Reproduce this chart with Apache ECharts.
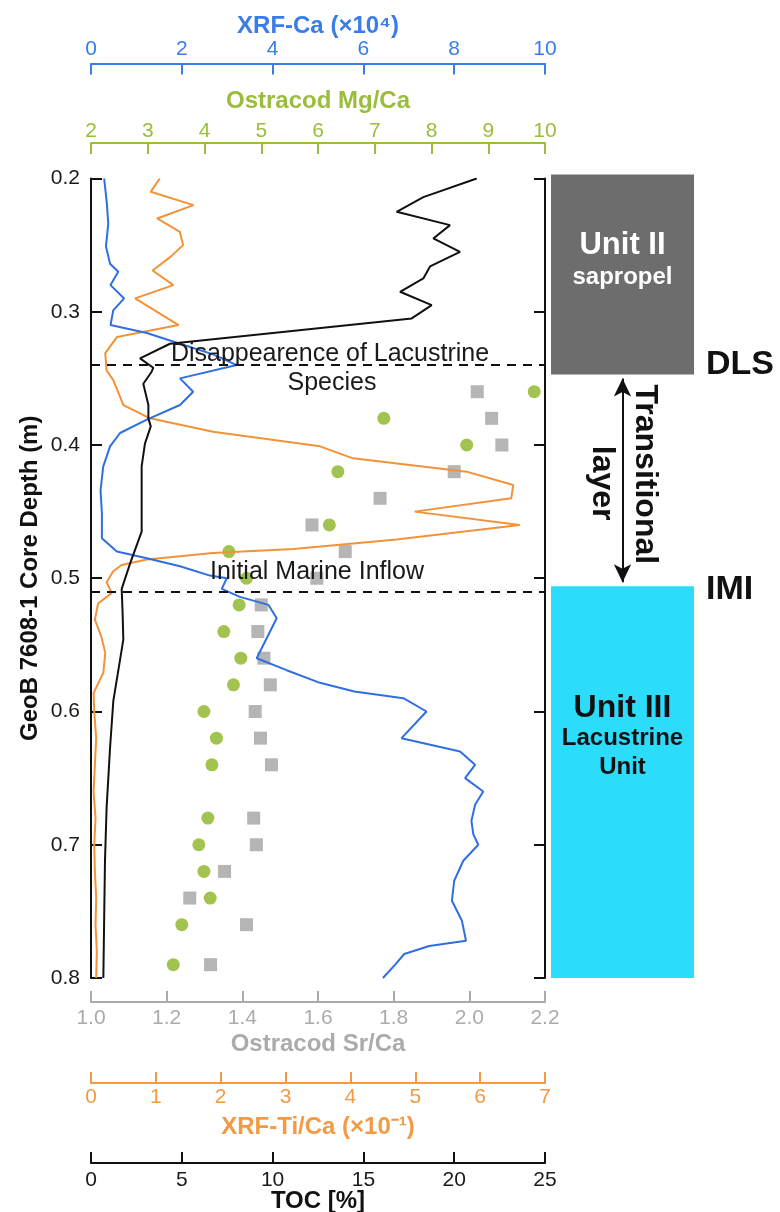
<!DOCTYPE html>
<html>
<head>
<meta charset="utf-8">
<script src="https://cdn.jsdelivr.net/npm/echarts@6/dist/echarts.min.js"></script>
<style>
html,body{margin:0;padding:0;background:#ffffff;}
#chart{width:780px;height:1212px;}
</style>
</head>
<body>
<div id="chart"></div>
<script>
// ---------------- data ----------------
const depthTicks = [0.2, 0.3, 0.4, 0.5, 0.6, 0.7, 0.8];

const depthXrfCa = [0.200,0.219,0.234,0.251,0.264,0.270,0.280,0.290,0.299,0.310,0.316,0.324,0.332,0.340,0.350,0.360,0.370,0.381,0.391,0.401,0.416,0.434,0.451,0.470,0.480,0.485,0.491,0.498,0.500,0.508,0.514,0.520,0.530,0.545,0.560,0.569,0.578,0.585,0.590,0.600,0.620,0.630,0.640,0.650,0.660,0.670,0.682,0.692,0.700,0.712,0.727,0.742,0.757,0.772,0.776,0.782,0.790,0.800];
const xrfCa      = [0.29,0.35,0.38,0.33,0.42,0.60,0.43,0.73,0.49,0.43,1.23,1.96,2.69,3.21,1.96,2.25,1.96,1.23,0.64,0.42,0.27,0.21,0.24,0.24,0.57,1.23,1.96,2.62,2.99,2.88,3.28,3.91,4.09,3.87,3.65,4.31,5.00,5.80,6.88,7.39,6.84,8.13,8.46,8.24,8.64,8.46,8.38,8.42,8.53,8.20,8.00,7.95,8.17,8.26,7.45,6.90,6.70,6.43];

const depthTiCa = [0.200,0.210,0.220,0.230,0.240,0.250,0.259,0.269,0.280,0.290,0.310,0.319,0.331,0.344,0.351,0.370,0.380,0.390,0.401,0.410,0.420,0.430,0.440,0.450,0.460,0.471,0.478,0.481,0.486,0.490,0.495,0.503,0.508,0.511,0.519,0.531,0.544,0.556,0.571,0.586,0.600,0.620,0.640,0.660,0.680,0.700,0.720,0.740,0.760,0.780,0.800];
const tiCa      = [1.06,0.92,1.58,1.02,1.37,1.42,1.22,0.95,1.27,0.68,1.35,0.40,0.22,0.24,0.34,0.50,0.91,1.88,3.53,4.04,5.79,6.51,6.48,4.99,6.61,4.71,3.12,1.88,0.86,0.47,0.34,0.24,0.29,0.32,0.11,0.06,0.16,0.22,0.19,0.04,0.05,0.08,0.06,0.04,0.07,0.05,0.06,0.08,0.07,0.09,0.08];

const depthToc = [0.200,0.214,0.225,0.235,0.245,0.255,0.266,0.275,0.285,0.295,0.305,0.324,0.335,0.342,0.345,0.354,0.370,0.380,0.386,0.399,0.416,0.465,0.489,0.508,0.526,0.546,0.577,0.592,0.627,0.672,0.712,0.760,0.800];
const toc      = [21.24,18.30,16.83,19.77,18.85,20.32,18.67,18.30,17.02,18.76,17.66,4.35,2.70,3.43,3.34,2.88,3.16,3.16,3.29,2.97,2.79,2.79,2.15,1.69,1.74,1.78,1.41,1.23,1.05,0.86,0.77,0.72,0.68];

const depthMgCa = [0.36,0.38,0.40,0.42,0.46,0.48,0.50,0.52,0.54,0.56,0.58,0.60,0.62,0.64,0.68,0.70,0.72,0.74,0.76,0.79];
const mgCa      = [9.81,7.16,8.62,6.35,6.20,4.43,4.74,4.61,4.34,4.64,4.51,3.99,4.21,4.13,4.06,3.90,3.99,4.10,3.60,3.45];

const depthSrCa = [0.36,0.38,0.40,0.42,0.44,0.46,0.48,0.50,0.52,0.54,0.56,0.58,0.60,0.62,0.64,0.68,0.70,0.72,0.74,0.76,0.79];
const srCa      = [2.021,2.059,2.086,1.960,1.764,1.584,1.672,1.597,1.450,1.441,1.457,1.474,1.434,1.448,1.477,1.430,1.437,1.353,1.261,1.411,1.316];

const eventNames  = ['DLS', 'IMI'];
const eventDepths = [0.344, 0.507];

const unitNames  = ['Unit II', 'Unit III'];
const unitTop    = [0.197, 0.506];
const unitBottom = [0.347, 0.800];

const transitionTop = 0.350;
const transitionBottom = 0.503;

// ---------------- styles ----------------
const FONT = '"Liberation Sans", Arial, Helvetica, sans-serif';
const COL = {
  blue: '#2f6fe2', blueAxis: '#3a7de8',
  green: '#8cb424', greenAxis: '#9bbd3e',
  gray: '#a3a3a3', grayAxis: '#ababab',
  orange: '#f39237', orangeAxis: '#f49a43',
  black: '#111111'
};
const unitColors = ['#6d6d6d', '#2bdcfb'];

function pairs(vals, depths) { return vals.map((v, i) => [v, depths[i]]); }

function xAxisCfg(o) {
  return {
    type: 'value', gridIndex: 0, position: o.pos, offset: o.offset,
    min: o.min, max: o.max, interval: o.interval,
    name: o.name, nameLocation: 'middle', nameGap: o.nameGap, nameMoveOverlap: false,
    nameTextStyle: { color: o.titleColor, fontSize: 24, fontWeight: 'bold', fontFamily: FONT },
    axisLine: { show: true, onZero: false, lineStyle: { color: o.color, width: 2 } },
    axisTick: { show: true, inside: true, length: 11, lineStyle: { color: o.color, width: 2 } },
    axisLabel: { color: o.labelColor, fontSize: 21, margin: o.margin, fontFamily: FONT, formatter: o.fmt },
    splitLine: { show: false }
  };
}

const GRID_TOP = 178.5, GRID_BOTTOM = 1212 - 978;

const option = {
  animation: false,
  backgroundColor: '#ffffff',
  grid: [
    { left: 91, right: 780 - 545, top: GRID_TOP, bottom: GRID_BOTTOM, containLabel: false, outerBoundsMode: 'none' },
    { left: 551, right: 780 - 694, top: GRID_TOP, bottom: GRID_BOTTOM, containLabel: false, outerBoundsMode: 'none' }
  ],
  xAxis: [
    xAxisCfg({ pos: 'top', offset: 115, min: 0, max: 10, interval: 2, name: 'XRF-Ca (×10⁴)', nameGap: 25, margin: 4,
      color: COL.blueAxis, labelColor: COL.blueAxis, titleColor: COL.blueAxis }),
    xAxisCfg({ pos: 'top', offset: 35.5, min: 2, max: 10, interval: 1, name: 'Ostracod Mg/Ca', nameGap: 30, margin: 1,
      color: COL.greenAxis, labelColor: COL.greenAxis, titleColor: COL.greenAxis }),
    xAxisCfg({ pos: 'bottom', offset: 24, min: 1.0, max: 2.2, interval: 0.2, name: 'Ostracod Sr/Ca', nameGap: 30, margin: 6,
      color: COL.grayAxis, labelColor: COL.grayAxis, titleColor: COL.grayAxis, fmt: v => v.toFixed(1) }),
    xAxisCfg({ pos: 'bottom', offset: 105, min: 0, max: 7, interval: 1, name: 'XRF-Ti/Ca (×10⁻¹)', nameGap: 32, margin: 4,
      color: COL.orangeAxis, labelColor: COL.orangeAxis, titleColor: COL.orangeAxis }),
    xAxisCfg({ pos: 'bottom', offset: 185, min: 0, max: 25, interval: 5, name: 'TOC [%]', nameGap: 26.5, margin: 7,
      color: COL.black, labelColor: '#1a1a1a', titleColor: COL.black }),
    { type: 'value', gridIndex: 1, min: 0, max: 1, show: false }
  ],
  yAxis: [
    {
      type: 'value', gridIndex: 0, position: 'left', inverse: true, min: 0.2, max: 0.8, interval: 0.1,
      name: 'GeoB 7608-1 Core Depth (m)', nameLocation: 'middle', nameGap: 49, nameMoveOverlap: false,
      nameTextStyle: { color: COL.black, fontSize: 24, fontWeight: 'bold', fontFamily: FONT },
      axisLine: { show: true, onZero: false, lineStyle: { color: COL.black, width: 2 } },
      axisTick: { show: true, inside: true, length: 11, lineStyle: { color: COL.black, width: 2 } },
      axisLabel: { color: '#1a1a1a', fontSize: 21, margin: 11, fontFamily: FONT, formatter: v => v.toFixed(1) },
      splitLine: { show: false }
    },
    {
      type: 'value', gridIndex: 0, position: 'right', inverse: true, min: 0.2, max: 0.8, interval: 0.1,
      axisLine: { show: true, onZero: false, lineStyle: { color: COL.black, width: 2 } },
      axisTick: { show: true, inside: true, length: 11, lineStyle: { color: COL.black, width: 2 } },
      axisLabel: { show: false },
      splitLine: { show: false }
    },
    { type: 'value', gridIndex: 1, inverse: true, min: 0.2, max: 0.8, show: false }
  ],
  series: [
    {
      name: 'Ostracod Sr/Ca', type: 'scatter', xAxisIndex: 2, yAxisIndex: 0,
      symbol: 'rect', symbolSize: 13, itemStyle: { color: COL.gray },
      data: pairs(srCa, depthSrCa), z: 2
    },
    {
      name: 'Ostracod Mg/Ca', type: 'scatter', xAxisIndex: 1, yAxisIndex: 0,
      symbol: 'circle', symbolSize: 13, itemStyle: { color: COL.green },
      data: pairs(mgCa, depthMgCa), z: 2
    },
    {
      name: 'XRF-Ti/Ca', type: 'line', xAxisIndex: 3, yAxisIndex: 0, showSymbol: false, symbol: 'none',
      lineStyle: { color: COL.orange, width: 2 }, data: pairs(tiCa, depthTiCa), z: 3
    },
    {
      name: 'XRF-Ca', type: 'line', xAxisIndex: 0, yAxisIndex: 0, showSymbol: false, symbol: 'none',
      lineStyle: { color: COL.blue, width: 2 }, data: pairs(xrfCa, depthXrfCa), z: 3
    },
    {
      name: 'TOC', type: 'line', xAxisIndex: 4, yAxisIndex: 0, showSymbol: false, symbol: 'none',
      lineStyle: { color: COL.black, width: 2 }, data: pairs(toc, depthToc), z: 3,
      markLine: {
        silent: true, symbol: 'none', animation: false,
        label: { show: false },
        lineStyle: { color: COL.black, width: 2, type: [9, 7] },
        data: eventDepths.map((d, i) => ({ name: eventNames[i], yAxis: d }))
      }
    },
    {
      name: 'Units', type: 'custom', xAxisIndex: 5, yAxisIndex: 2, clip: false, silent: true,
      encode: { x: [0, 2], y: [1, 3] },
      data: unitTop.map((t, i) => [0, t, 1, unitBottom[i], i]),
      renderItem: function (params, api) {
        const p0 = api.coord([api.value(0), api.value(1)]);
        const p1 = api.coord([api.value(2), api.value(3)]);
        return {
          type: 'rect',
          shape: { x: p0[0], y: p0[1], width: p1[0] - p0[0], height: p1[1] - p0[1] },
          style: { fill: unitColors[api.value(4)] }
        };
      },
      markLine: {
        silent: true, symbol: ['arrow', 'arrow'], symbolSize: [13, 18], animation: false,
        label: { show: false },
        lineStyle: { color: COL.black, width: 2, type: 'solid' },
        data: [[{ coord: [0.5, transitionTop] }, { coord: [0.5, transitionBottom] }]]
      }
    }
  ]
};

const chart = echarts.init(document.getElementById('chart'), null, { renderer: 'canvas' });
chart.setOption(option);

// annotation texts positioned through the depth axis
function py(d) { return chart.convertToPixel({ yAxisIndex: 0 }, d); }
const annotations = [
  { t: 'Disappearence of Lacustrine', x: 330, d: 0.3318, s: 25, w: 'normal', c: '#1a1a1a' },
  { t: 'Species', x: 332, d: 0.3535, s: 25, w: 'normal', c: '#1a1a1a' },
  { t: 'Initial Marine Inflow', x: 317, d: 0.4954, s: 25, w: 'normal', c: '#1a1a1a' },
  { t: 'Unit II', x: 622.5, d: 0.250, s: 31, w: 'bold', c: '#ffffff' },
  { t: 'sapropel', x: 622.5, d: 0.274, s: 24, w: 'bold', c: '#ffffff' },
  { t: 'Unit III', x: 622.5, d: 0.5975, s: 32, w: 'bold', c: '#111111' },
  { t: 'Lacustrine', x: 622.5, d: 0.620, s: 24, w: 'bold', c: '#111111' },
  { t: 'Unit', x: 622.5, d: 0.642, s: 24, w: 'bold', c: '#111111' },
  { t: eventNames[0], x: 706, d: 0.340, s: 34, w: 'bold', c: '#111111', a: 'left' },
  { t: eventNames[1], x: 706, d: 0.5085, s: 34, w: 'bold', c: '#111111', a: 'left' },
  { t: 'Transitional', x: 645, d: 0.422, s: 32, w: 'bold', c: '#111111', r: -Math.PI / 2 },
  { t: 'layer', x: 602, d: 0.4286, s: 32, w: 'bold', c: '#111111', r: -Math.PI / 2 }
];
chart.setOption({
  graphic: annotations.map(a => ({
    type: 'text', x: a.x, y: py(a.d), rotation: a.r || 0, z: 100, silent: true,
    style: {
      text: a.t, fill: a.c, fontSize: a.s, fontWeight: a.w, fontFamily: FONT,
      textAlign: a.a || 'center', textVerticalAlign: 'middle'
    }
  }))
});
</script>
</body>
</html>
